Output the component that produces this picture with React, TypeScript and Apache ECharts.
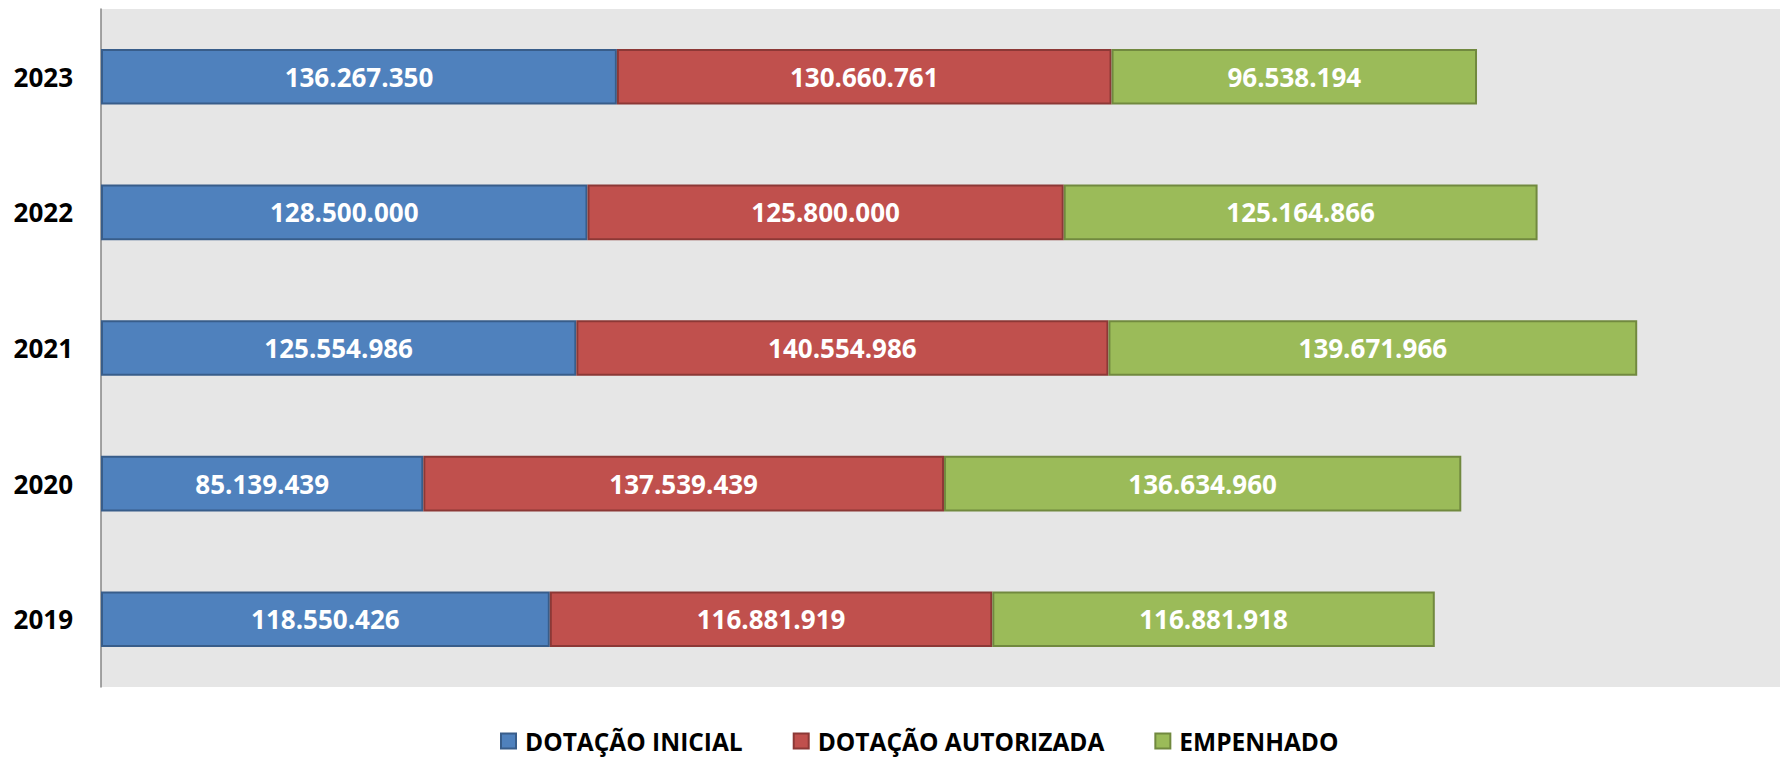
import React, { useEffect, useRef } from "react";
import * as echarts from "echarts";

const years = ["2019", "2020", "2021", "2022", "2023"];
const seriesNames = ["DOTAÇÃO INICIAL", "DOTAÇÃO AUTORIZADA", "EMPENHADO"];
const dotacaoInicial = [118550426, 85139439, 125554986, 128500000, 136267350];
const dotacaoAutorizada = [116881919, 137539439, 140554986, 125800000, 130660761];
const empenhado = [116881918, 136634960, 139671966, 125164866, 96538194];

const fills = ["#4F81BD", "#C0504D", "#9BBB59"];
const borders = ["#385D8A", "#8C3836", "#71893F"];

const fmt = (n: number) => String(n).replace(/\B(?=(\d{3})+(?!\d))/g, ".");

export default function App() {
  const ref = useRef<HTMLDivElement>(null);
  useEffect(() => {
    if (!ref.current) return;
    const chart = echarts.init(ref.current, null, { renderer: "svg" });
    const datasets = [dotacaoInicial, dotacaoAutorizada, empenhado];
    chart.setOption({
      animation: false,
      textStyle: { fontFamily: "Open Sans" },
      grid: {
        left: 101,
        right: 10,
        top: 9,
        bottom: 70,
        show: true,
        backgroundColor: "#E6E6E6",
        borderWidth: 0,
      },
      legend: {
        left: 500,
        top: 728,
        itemWidth: 15,
        itemHeight: 15,
        itemGap: 50,
        icon: "rect",
        padding: 0,
        textStyle: {
          fontSize: 24.5,
          lineHeight: 26,
          fontWeight: "bold",
          color: "#000",
          fontFamily: "Open Sans",
          padding: [0, 0, 0, 4],
        },
        data: seriesNames,
      },
      xAxis: {
        type: "value",
        min: 0,
        max: 443500000,
        show: false,
        splitLine: { show: false },
      },
      yAxis: {
        type: "category",
        data: years,
        axisLine: { show: true, lineStyle: { color: "#868686", width: 1.5 } },
        axisTick: { show: false },
        axisLabel: {
          margin: 28,
          fontSize: 26,
          fontWeight: "bold",
          color: "#000",
          fontFamily: "Open Sans",
        },
      },
      series: seriesNames.map((name, i) => ({
        name,
        type: "bar",
        stack: "total",
        barWidth: "41%",
        data: datasets[i],
        itemStyle: { color: fills[i], borderColor: borders[i], borderWidth: 2 },
        label: {
          show: true,
          position: "inside",
          color: "#fff",
          fontSize: 26,
          fontWeight: "bold",
          fontFamily: "Open Sans",
          formatter: (p: any) => fmt(p.value),
        },
      })),
    });
    return () => chart.dispose();
  }, []);
  return (
    <div
      ref={ref}
      style={{ position: "fixed", left: 0, top: 0, width: 1790, height: 757, background: "#fff" }}
    />
  );
}
